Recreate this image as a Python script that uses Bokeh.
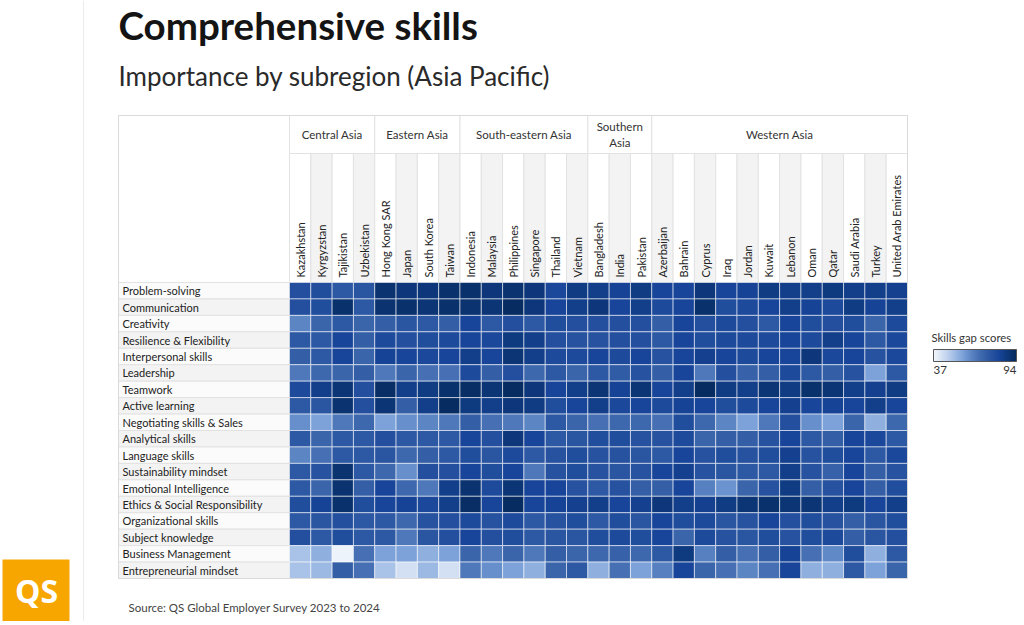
import numpy as np
from bokeh.plotting import figure
from bokeh.models import (Range1d, ColumnDataSource, LinearColorMapper, ColorBar, FixedTicker)
from bokeh.core.properties import value
from bokeh.transform import transform
from bokeh.embed import file_html
from bokeh.resources import INLINE

# ---------------- data ----------------
regions = ["Central Asia", "Eastern Asia", "South-eastern Asia", "Southern Asia", "Western Asia"]
region_sizes = [4, 4, 6, 3, 12]
countries = ["Kazakhstan", "Kyrgyzstan", "Tajikistan", "Uzbekistan",
             "Hong Kong SAR", "Japan", "South Korea", "Taiwan",
             "Indonesia", "Malaysia", "Philippines", "Singapore", "Thailand", "Vietnam",
             "Bangladesh", "India", "Pakistan",
             "Azerbaijan", "Bahrain", "Cyprus", "Iraq", "Jordan", "Kuwait", "Lebanon",
             "Oman", "Qatar", "Saudi Arabia", "Turkey", "United Arab Emirates"]
skills = ["Problem-solving", "Communication", "Creativity", "Resilience & Flexibility",
          "Interpersonal skills", "Leadership", "Teamwork", "Active learning",
          "Negotiating skills & Sales", "Analytical skills", "Language skills",
          "Sustainability mindset", "Emotional Intelligence", "Ethics & Social Responsibility",
          "Organizational skills", "Subject knowledge", "Business Management",
          "Entrepreneurial mindset"]

problem_solving = [78, 79, 75, 76, 90, 88, 88, 91, 91, 88, 90, 88, 81, 86, 85, 83, 86, 82, 82, 88, 82, 83, 86, 85, 85, 87, 85, 85, 84]
communication = [78, 79, 91, 75, 90, 91, 89, 91, 90, 89, 93, 88, 82, 85, 88, 82, 85, 80, 82, 91, 79, 80, 82, 85, 83, 80, 86, 83, 85]
creativity = [63, 71, 75, 71, 73, 76, 75, 73, 82, 75, 78, 75, 79, 78, 78, 78, 78, 73, 82, 78, 80, 78, 75, 82, 79, 78, 79, 71, 80]
resilience = [75, 75, 82, 73, 80, 78, 79, 80, 82, 81, 87, 85, 78, 77, 77, 78, 78, 75, 82, 79, 80, 80, 80, 82, 80, 85, 82, 75, 81]
interpersonal = [73, 75, 82, 71, 83, 82, 81, 82, 85, 82, 89, 85, 80, 80, 82, 80, 82, 77, 82, 84, 82, 80, 82, 82, 88, 81, 82, 77, 81]
leadership = [66, 70, 71, 73, 66, 71, 68, 68, 80, 73, 78, 70, 75, 71, 75, 74, 77, 73, 82, 66, 78, 72, 73, 80, 75, 73, 77, 57, 75]
teamwork = [80, 85, 89, 78, 92, 85, 86, 91, 92, 89, 93, 88, 82, 85, 89, 83, 89, 82, 85, 93, 86, 85, 89, 86, 91, 89, 85, 84, 86]
active_learning = [75, 76, 90, 78, 89, 73, 85, 93, 87, 85, 88, 86, 79, 82, 85, 81, 82, 80, 83, 82, 79, 80, 82, 84, 82, 83, 82, 85, 82]
negotiating = [61, 57, 66, 70, 57, 61, 63, 66, 73, 68, 66, 63, 75, 71, 68, 70, 70, 68, 79, 70, 63, 57, 66, 78, 61, 57, 71, 54, 70]
analytical = [75, 71, 75, 75, 78, 75, 75, 75, 82, 78, 88, 82, 75, 76, 79, 79, 77, 77, 80, 71, 73, 73, 77, 82, 75, 73, 82, 81, 75]
language = [63, 68, 75, 75, 76, 70, 73, 75, 79, 76, 80, 75, 77, 79, 77, 77, 76, 75, 82, 77, 79, 77, 79, 84, 77, 79, 82, 75, 81]
sustainability = [75, 77, 90, 75, 70, 61, 78, 78, 82, 79, 82, 66, 77, 79, 77, 76, 77, 82, 84, 77, 76, 75, 75, 85, 77, 72, 82, 73, 77]
emotional = [75, 71, 90, 73, 82, 70, 66, 85, 90, 80, 89, 82, 82, 77, 75, 77, 73, 73, 82, 64, 60, 71, 77, 86, 73, 77, 82, 73, 79]
ethics = [79, 83, 91, 79, 82, 83, 81, 85, 92, 82, 93, 82, 83, 84, 85, 82, 84, 88, 85, 84, 86, 89, 91, 89, 89, 85, 87, 82, 85]
organizational = [75, 76, 78, 75, 75, 70, 77, 78, 80, 77, 80, 75, 77, 79, 75, 79, 76, 82, 79, 80, 76, 77, 82, 78, 79, 77, 73, 76, 79]
subject_knowledge = [78, 75, 79, 75, 75, 66, 76, 78, 82, 78, 79, 75, 76, 76, 79, 80, 79, 82, 71, 80, 77, 76, 79, 77, 79, 80, 73, 76, 78]
business_mgmt = [50, 54, 38, 68, 57, 57, 54, 57, 71, 66, 71, 66, 73, 71, 70, 72, 70, 75, 87, 64, 73, 68, 73, 83, 68, 62, 79, 54, 75]
entrepreneurial = [50, 52, 73, 68, 50, 43, 52, 43, 66, 61, 57, 54, 71, 75, 54, 68, 57, 64, 82, 71, 68, 63, 68, 82, 54, 54, 75, 57, 71]

score_rows = [problem_solving, communication, creativity, resilience, interpersonal, leadership,
              teamwork, active_learning, negotiating, analytical, language, sustainability,
              emotional, ethics, organizational, subject_knowledge, business_mgmt, entrepreneurial]

scale_low, scale_high = 37, 94
legend_title = "Skills gap scores"
title = "Comprehensive skills"
subtitle = "Importance by subregion (Asia Pacific)"
source_note = "Source: QS Global Employer Survey 2023 to 2024"

# ---------------- style ----------------
FONT = value("Lato")
stops = [(37, "#f2f6fc"), (45, "#c8d8f0"), (52, "#9cb9e4"), (58, "#769dd6"), (64, "#5680c0"),
         (70, "#3e68ad"), (76, "#2a55a1"), (82, "#18459a"), (87, "#0e3a80"), (94, "#062a5c")]


def hex2rgb(h):
    return np.array([int(h[i:i + 2], 16) for i in (1, 3, 5)], dtype=float)


sv = np.array([s[0] for s in stops], float)
sc = np.array([hex2rgb(s[1]) for s in stops])
palette = []
for g in np.linspace(scale_low, scale_high, 256):
    rgb = [np.interp(g, sv, sc[:, k]) for k in range(3)]
    palette.append("#%02x%02x%02x" % tuple(int(round(c)) for c in rgb))
mapper = LinearColorMapper(palette=palette, low=scale_low, high=scale_high)

# page geometry (window pixels); data units: 1 column wide, 1 row high
W, H = 1020, 621
FL, FR, FT, FB = 289, 907, 282, 578
ncol, nrow = len(countries), len(skills)
CW = (FR - FL) / ncol
RH = (FB - FT) / nrow


def sx(px):
    return (px - FL) / CW


def sy(py):
    return (FB - py) / RH


p = figure(width=W, height=H, output_backend="svg", toolbar_location=None,
           x_range=Range1d(sx(0), sx(W)), y_range=Range1d(sy(H), sy(0)),
           x_axis_location=None, y_axis_location=None, title=None,
           min_border=0, min_border_left=0, min_border_right=0,
           min_border_top=0, min_border_bottom=0)
p.grid.visible = False
p.outline_line_color = None
p.background_fill_color = "white"
p.border_fill_color = "white"

GRID_LINE = "#e2e2e2"
col_idx = list(range(ncol))
row_idx = list(range(nrow))

# divider + logo
p.quad(left=[sx(82.5)], right=[sx(83.5)], top=[sy(0)], bottom=[sy(H)],
       fill_color="#ececec", line_color=None)
p.quad(left=[sx(2)], right=[sx(69)], top=[sy(559)], bottom=[sy(H)],
       fill_color="#f7a600", line_color=None)
p.text(x=[sx(36)], y=[sy(590)], text=["QS"], text_font=value("Open Sans"),
       text_font_style="bold", text_font_size="32px", text_color="white",
       text_align="center", text_baseline="middle")

# label column header cell and row label cells
p.quad(left=[sx(118)], right=[0], top=[sy(115)], bottom=[nrow],
       fill_color="white", line_color=GRID_LINE)
p.quad(left=sx(118), right=0, top=[nrow - j for j in row_idx],
       bottom=[nrow - j - 1 for j in row_idx],
       fill_color=["#f3f3f3" if j % 2 else "#fbfbfb" for j in row_idx],
       line_color=GRID_LINE)
# country header cells
p.quad(left=col_idx, right=[i + 1 for i in col_idx], top=sy(153), bottom=nrow,
       fill_color=["#f3f3f3" if i % 2 else "white" for i in col_idx], line_color=GRID_LINE)
# region header cells + labels
starts = np.cumsum([0] + region_sizes[:-1])
p.quad(left=list(starts), right=list(starts + np.array(region_sizes)), top=sy(115),
       bottom=sy(153), fill_color="white", line_color=GRID_LINE)
region_txt = [r.replace(" ", "\n") if n <= 3 else r for r, n in zip(regions, region_sizes)]
p.text(x=list(starts + np.array(region_sizes) / 2), y=sy(134), text=region_txt,
       text_align="center", text_baseline="middle", text_font=FONT, text_font_size="11.5px",
       text_color="#333333", text_line_height=1.2)

# heatmap cells
xs, ys, vs = [], [], []
for j, row in enumerate(score_rows):
    for i, v in enumerate(row):
        xs.append(i + 0.5)
        ys.append(nrow - j - 0.5)
        vs.append(v)
src = ColumnDataSource(dict(x=xs, y=ys, v=vs))
p.rect(x="x", y="y", width=1, height=1, source=src,
       fill_color=transform("v", mapper), line_color="white", line_alpha=0.55, line_width=1)

# outer border
p.quad(left=[sx(118)], right=[ncol], top=[sy(115)], bottom=[0],
       fill_color=None, line_color="#dadada")

# row labels
p.text(x=sx(122), y=[nrow - j - 0.5 for j in row_idx], text=skills,
       text_align="left", text_baseline="middle", text_font=FONT,
       text_font_size="11px", text_color="#222222")
# country labels (vertical)
p.text(x=[i + 0.5 for i in col_idx], y=sy(277), text=countries, angle=np.pi / 2,
       text_align="left", text_baseline="middle", text_font=FONT,
       text_font_size="11px", text_color="#222222")

# titles
p.text(x=[sx(118)], y=[sy(24)], text=[title], text_font=FONT, text_font_style="bold",
       text_font_size="38.5px", text_color="#141414", text_baseline="middle")
p.text(x=[sx(118)], y=[sy(75)], text=[subtitle], text_font=FONT,
       text_font_size="26px", text_color="#2a2a2a", text_baseline="middle")
p.text(x=[sx(128)], y=[sy(607)], text=[source_note], text_font=FONT,
       text_font_size="11.5px", text_color="#444444", text_baseline="middle")

# legend
p.text(x=[sx(931)], y=[sy(337)], text=[legend_title], text_font=FONT,
       text_font_size="11.3px", text_color="#333333", text_baseline="middle")
cb = ColorBar(color_mapper=mapper, orientation="horizontal", location=(933, H - 361),
              width=83, height=12, padding=0, ticker=FixedTicker(ticks=[]),
              major_label_text_font_size="0px", major_tick_line_color=None,
              bar_line_color="#555555", background_fill_color=None, border_line_color=None,
              title=None)
p.add_layout(cb, "center")
p.text(x=[sx(933), sx(1016)], y=sy(369), text=[str(scale_low), str(scale_high)],
       text_font=FONT, text_font_size="11.5px", text_color="#333333",
       text_baseline="middle", text_align=["left", "right"])

open("out.html", "w").write(file_html(p, INLINE))
